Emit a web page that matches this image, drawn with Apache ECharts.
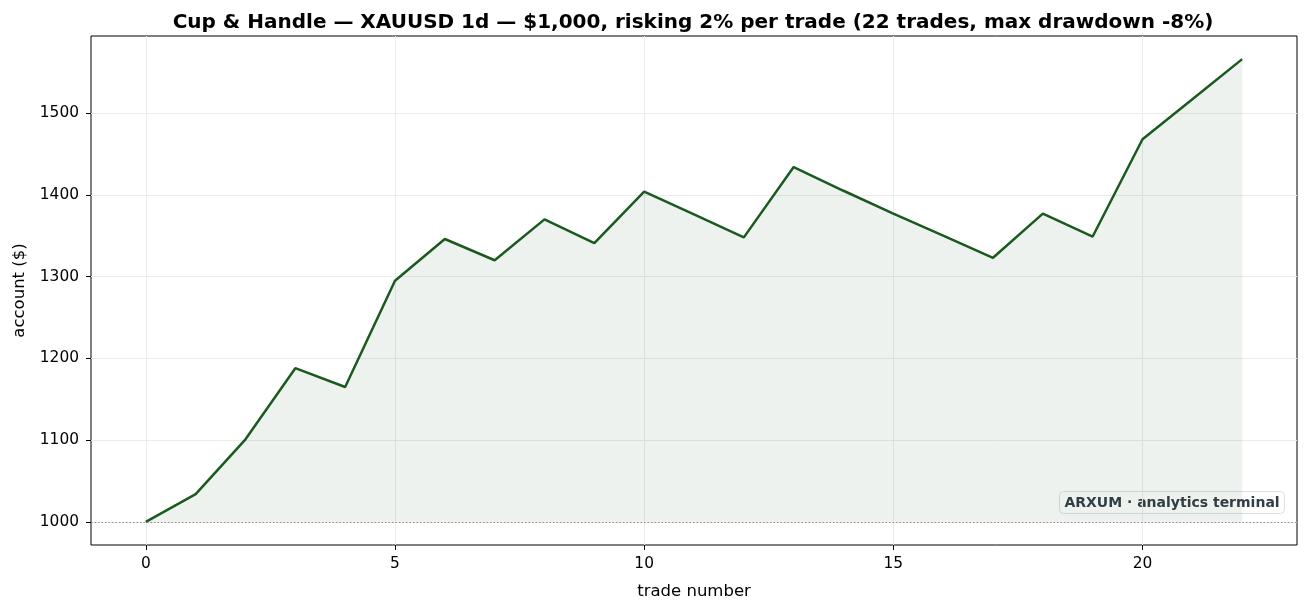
<!DOCTYPE html>
<html>
<head>
<meta charset="utf-8">
<script src="https://cdn.jsdelivr.net/npm/echarts@6/dist/echarts.min.js"></script>
<style>
  html, body { margin: 0; padding: 0; background: #fff; }
  #chart { width: 1309px; height: 612px; }
</style>
</head>
<body>
<div id="chart"></div>
<script>
// trade index and account balance after each trade
var trades = [0, 1, 2, 3, 4, 5, 6, 7, 8, 9, 10, 11, 12, 13, 14, 15, 16, 17, 18, 19, 20, 21, 22];
var balance = [1000, 1034, 1101, 1188, 1165, 1295, 1346, 1320, 1370, 1341, 1404, 1376, 1348, 1434,
               1405, 1377, 1350, 1323, 1377, 1349, 1468, 1517, 1566];
var xTicks = [0, 5, 10, 15, 20];
var yTicks = [1000, 1100, 1200, 1300, 1400, 1500];
var startBalance = 1000;

var chart = echarts.init(document.getElementById('chart'));

var FONT = 'DejaVu Sans';

var option = {
    backgroundColor: '#ffffff',
    animation: false,
    textStyle: { fontFamily: FONT },
    title: {
        text: 'Cup & Handle \u2014 XAUUSD 1d \u2014 $1,000, risking 2% per trade (22 trades, max drawdown -8%)',
        left: 688,
        top: 8,
        textAlign: 'center',
        textStyle: { fontFamily: FONT, fontSize: 20, fontWeight: 'bold', color: '#000' }
    },
    grid: {
        left: 91, right: 12, top: 36, bottom: 67,
        show: true,
        borderColor: '#000',
        borderWidth: 1
    },
    xAxis: {
        type: 'value',
        min: -1.1,
        max: 23.1,
        name: 'trade number',
        nameLocation: 'middle',
        nameGap: 38,
        nameTextStyle: { fontFamily: FONT, fontSize: 16.5, color: '#000' },
        axisLine: { show: false, onZero: false },
        axisTick: { show: true, inside: false, customValues: xTicks, length: 5, lineStyle: { color: '#000', width: 1 } },
        axisLabel: {
            customValues: xTicks, fontFamily: FONT, fontSize: 15.4, color: '#000', margin: 11,
            formatter: function (v) { return String(v); }
        },
        splitLine: { show: true, lineStyle: { color: '#ebebeb', width: 1 } }
    },
    yAxis: {
        type: 'value',
        min: 971.7,
        max: 1594.3,
        name: 'account ($)',
        nameLocation: 'middle',
        nameGap: 63,
        nameTextStyle: { fontFamily: FONT, fontSize: 16.5, color: '#000' },
        axisLine: { show: false, onZero: false },
        axisTick: { show: true, inside: false, customValues: yTicks, length: 5, lineStyle: { color: '#000', width: 1 } },
        axisLabel: {
            customValues: yTicks, fontFamily: FONT, fontSize: 15.4, color: '#000', margin: 12,
            formatter: function (v) { return String(v); }
        },
        splitLine: { show: true, lineStyle: { color: '#ebebeb', width: 1 } }
    },
    series: [
        {
            name: 'account',
            type: 'line',
            data: trades.map(function (t, i) { return [t, balance[i]]; }),
            showSymbol: false,
            lineStyle: { color: '#1b5a1f', width: 2.5 },
            itemStyle: { color: '#1b5a1f' },
            areaStyle: { color: 'rgba(29,90,32,0.08)', opacity: 1, origin: startBalance },
            markLine: {
                silent: true,
                symbol: ['none', 'none'],
                label: { show: false },
                lineStyle: { color: '#8f8f8f', type: [1.5, 2], width: 1 },
                data: [{ yAxis: startBalance }]
            },
            z: 3
        }
    ],
    graphic: [
        {
            type: 'group',
            right: 24,
            bottom: 98,
            children: [
                {
                    type: 'rect',
                    shape: { x: 0, y: 0, width: 225, height: 22, r: 4 },
                    style: { fill: 'rgba(255,255,255,0.85)', stroke: '#dde0e3', lineWidth: 1 }
                },
                {
                    type: 'text',
                    x: 112.5,
                    y: 11.5,
                    style: {
                        text: 'ARXUM \u00b7 analytics terminal',
                        fontFamily: FONT,
                        fontSize: 14,
                        fontWeight: 'bold',
                        fill: '#333d47',
                        align: 'center',
                        verticalAlign: 'middle'
                    }
                }
            ]
        }
    ]
};

chart.setOption(option);
</script>
</body>
</html>
